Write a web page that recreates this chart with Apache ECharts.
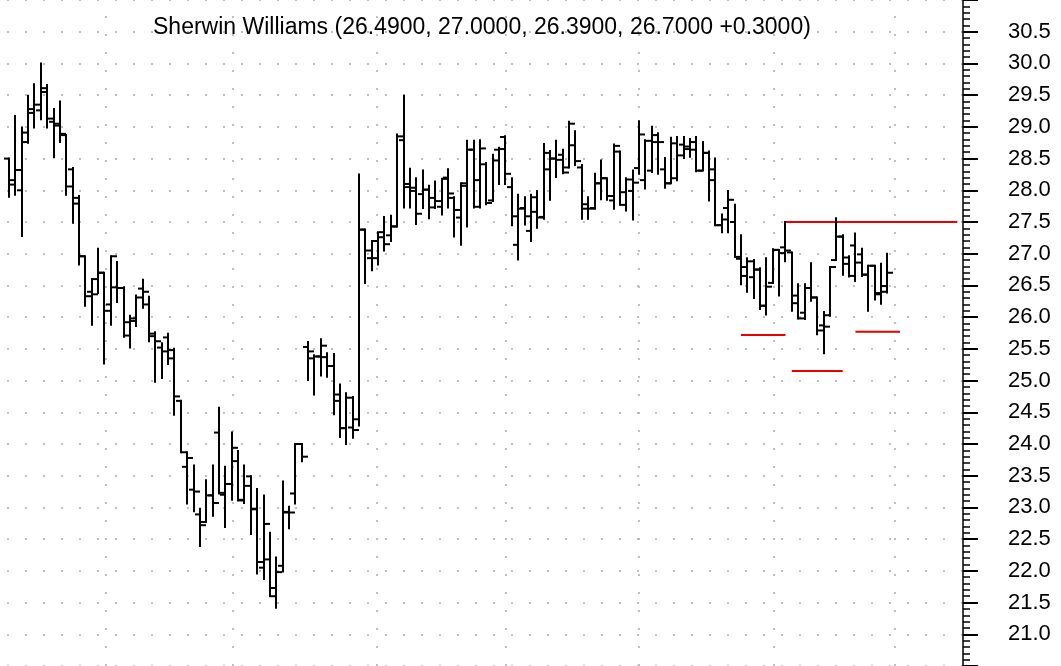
<!DOCTYPE html>
<html>
<head>
<meta charset="utf-8">
<script src="https://cdn.jsdelivr.net/npm/echarts@6/dist/echarts.min.js"></script>
<style>
  html, body { margin: 0; padding: 0; background: #fff; }
  #chart { width: 1061px; height: 666px; }
</style>
</head>
<body>
<div id="chart"></div>
<script>
// daily OHLC bars
var opens = [28.50,28.09,28.00,28.76,29.28,29.26,29.55,29.08,29.05,28.87,28.33,27.88,26.96,26.40,26.60,26.70,26.20,26.47,26.46,25.71,
  25.94,26.45,26.20,25.70,25.52,25.68,25.48,24.68,23.64,23.28,22.89,22.77,23.19,24.18,23.20,23.37,23.73,23.11,23.49,22.97,
  22.05,22.18,21.60,22.08,22.92,23.22,24.00,25.53,25.35,25.38,25.37,25.23,24.68,24.25,24.26,24.39,27.38,26.93,26.93,27.34,
  27.29,27.43,28.79,28.05,27.99,27.94,28.01,27.73,27.74,28.20,27.88,27.57,28.07,28.64,27.74,28.41,27.84,28.64,28.84,28.05,
  27.14,27.72,27.36,27.66,27.58,28.33,28.50,28.56,28.36,28.71,28.36,27.71,27.72,28.11,28.19,27.84,28.61,27.97,27.99,28.35,
  28.16,28.31,28.76,28.33,28.11,28.19,28.72,28.65,28.76,28.31,28.59,28.33,27.45,27.72,27.50,26.92,26.79,26.63,26.75,26.18,
  26.54,27.06,27.10,27.02,26.34,26.07,26.46,26.31,25.87,26.03,26.90,27.27,26.94,27.13,26.99,26.67,26.81,26.38,26.49];
var highs = [28.50,29.17,28.99,29.49,29.67,30.00,29.66,29.28,29.40,28.87,28.35,27.91,26.96,26.60,27.08,26.70,26.96,26.87,26.47,26.02,
  26.34,26.59,26.32,25.76,25.59,25.74,25.50,24.68,23.87,23.66,22.98,23.43,23.66,24.57,23.64,24.18,23.89,23.66,23.49,23.29,
  23.19,22.60,22.21,23.41,23.01,24.00,24.00,25.61,25.40,25.65,25.43,25.42,24.94,24.80,24.74,28.25,27.38,27.20,27.34,27.58,
  27.60,28.88,29.49,28.34,28.19,28.31,28.07,28.14,28.18,28.33,27.89,28.11,28.78,28.78,28.79,28.43,28.56,28.67,28.85,28.19,
  27.93,27.89,27.93,27.99,28.73,28.62,28.78,28.64,29.08,28.93,28.40,27.89,28.26,28.47,28.19,28.72,28.61,28.19,28.31,29.09,
  28.79,29.00,28.90,28.51,28.83,28.84,28.84,28.81,28.84,28.76,28.61,28.50,27.62,27.99,27.77,27.29,26.93,26.90,26.77,26.93,
  27.07,27.06,27.50,27.02,26.52,26.52,26.85,26.31,26.08,26.79,27.56,27.29,26.96,27.32,27.08,26.81,26.81,26.84,27.00];
var lows = [27.90,27.93,27.28,28.75,28.99,29.12,28.99,28.52,28.76,27.93,27.49,26.83,26.18,25.88,26.38,25.27,25.88,26.24,25.69,25.52,
  25.86,26.15,25.62,24.98,25.04,25.26,24.46,23.87,23.06,22.94,22.39,22.77,22.87,23.22,22.69,23.12,23.11,23.07,22.58,21.96,
  21.87,21.60,21.42,21.99,22.67,23.06,23.73,25.01,24.78,25.08,25.06,24.47,24.11,24.00,24.10,24.29,26.54,26.74,26.83,27.05,
  27.20,27.43,27.73,27.73,27.47,27.72,27.56,27.72,27.62,27.73,27.27,27.14,27.43,27.73,27.73,27.78,27.83,28.10,28.10,27.45,
  26.91,27.46,27.20,27.41,27.55,27.85,28.21,28.27,28.36,28.40,27.55,27.55,27.71,27.86,27.85,27.71,27.77,27.68,27.54,28.26,
  28.03,28.29,28.26,28.04,28.11,28.16,28.51,28.53,28.30,28.31,27.84,27.45,27.34,27.34,26.95,26.52,26.40,26.30,26.13,26.04,
  26.54,26.34,26.88,26.10,25.98,25.97,26.26,25.73,25.43,26.02,26.90,26.67,26.64,26.57,26.65,26.10,26.28,26.21,26.39];
var closes = [28.16,28.32,28.91,29.22,29.35,29.61,29.13,29.02,28.89,28.06,27.79,26.96,26.33,26.36,26.70,26.10,26.96,26.46,25.92,25.98,
  26.31,26.40,25.74,25.62,25.46,25.35,24.75,23.87,23.78,23.25,22.72,23.19,23.07,23.23,23.37,23.94,23.12,23.34,22.98,22.14,
  22.74,21.73,21.98,22.93,22.92,24.00,23.80,25.46,25.38,25.55,25.23,24.78,24.25,24.73,24.22,27.38,27.05,27.20,27.26,27.15,
  27.43,28.85,28.10,28.04,27.63,28.01,27.88,27.83,28.18,27.95,27.69,28.11,28.64,28.16,28.66,27.80,28.47,28.65,28.26,27.59,
  27.71,27.59,27.89,27.57,28.59,28.50,28.48,28.28,29.05,28.46,27.78,27.71,28.11,28.19,27.91,28.70,27.77,28.17,28.12,28.88,
  28.78,28.87,28.76,28.11,28.74,28.55,28.69,28.64,28.31,28.59,28.16,27.45,27.54,27.85,26.95,26.65,26.88,26.75,26.18,26.48,
  27.06,27.01,27.05,26.22,25.98,26.46,26.31,25.79,25.85,26.79,27.27,26.84,26.65,26.86,26.67,26.81,26.36,26.40,26.70];

// bar index where a new month begins (vertical dotted lines)
var monthBreaks = [15.2, 35.2, 57.8, 78.1, 98.9, 120.2, 139.1];

// drawn support / resistance levels: [startBar, endBar, price]
var levels = [
  [122, 149, 27.50],
  [115, 122, 25.72],
  [123, 131, 25.15],
  [133, 140, 25.77]
];

var last = opens.length - 1;
var chg = closes[last] - closes[last - 1];
var titleText = 'Sherwin Williams (' + opens[last].toFixed(4) + ', ' + highs[last].toFixed(4) + ', ' +
  lows[last].toFixed(4) + ', ' + closes[last].toFixed(4) + ' ' + (chg >= 0 ? '+' : '') + chg.toFixed(4) + ')';

var bars = opens.map(function (o, i) { return [i, o, highs[i], lows[i], closes[i]]; });

function renderBar(params, api) {
  var x = Math.round(api.coord([api.value(0), 0])[0]);
  var yo = api.coord([0, api.value(1)])[1];
  var yh = api.coord([0, api.value(2)])[1];
  var yl = api.coord([0, api.value(3)])[1];
  var yc = api.coord([0, api.value(4)])[1];
  var st = { stroke: '#000', lineWidth: 2 };
  return {
    type: 'group',
    children: [
      { type: 'line', shape: { x1: x, y1: yh - 1, x2: x, y2: yl + 1 }, style: st },
      { type: 'line', shape: { x1: x - 5, y1: yo, x2: x, y2: yo }, style: st },
      { type: 'line', shape: { x1: x, y1: yc, x2: x + 6, y2: yc }, style: st }
    ]
  };
}

var series = [{
  type: 'custom',
  renderItem: renderBar,
  data: bars,
  encode: { x: 0, y: [1, 2, 3, 4] },
  silent: true,
  z: 5,
  markLine: {
    silent: true,
    symbol: 'none',
    label: { show: false },
    lineStyle: { color: '#aaa', width: 1.5, type: [2, 16] },
    data: monthBreaks.map(function (m) { return { xAxis: m }; })
  }
}];

levels.forEach(function (lv) {
  series.push({
    type: 'line',
    data: [[lv[0], lv[2]], [lv[1], lv[2]]],
    showSymbol: false,
    silent: true,
    z: 4,
    lineStyle: { color: '#e60000', width: 2 }
  });
});

var chart = echarts.init(document.getElementById('chart'));
chart.setOption({
  animation: false,
  backgroundColor: '#fff',
  title: {
    text: titleText,
    left: 153,
    top: 16,
    padding: 0,
    textStyle: { fontFamily: 'Liberation Sans, Arial, sans-serif', fontSize: 23, fontWeight: 'normal', color: '#000' }
  },
  grid: { left: 0, top: -5.37, width: 963, height: 679.74 },
  xAxis: {
    type: 'value',
    min: -1.414,
    max: 149.9,
    show: false,
    splitLine: { show: false }
  },
  yAxis: {
    type: 'value',
    position: 'right',
    min: 20.5,
    max: 31.0,
    interval: 0.5,
    axisLine: { show: true, onZero: false, lineStyle: { color: '#000', width: 1.5 } },
    axisTick: { show: true, inside: false, length: 15, lineStyle: { color: '#000', width: 2 } },
    minorTick: { show: true, splitNumber: 5, length: 7, lineStyle: { color: '#000', width: 1.5 } },
    axisLabel: {
      showMinLabel: false,
      showMaxLabel: false,
      margin: 45,
      fontFamily: 'Liberation Sans, Arial, sans-serif',
      fontSize: 22,
      color: '#000',
      formatter: function (v) { return v.toFixed(1); }
    },
    splitLine: { show: true, lineStyle: { color: '#aaa', width: 1.5, type: [2, 16], dashOffset: 11 } }
  },
  series: series
});
</script>
</body>
</html>
